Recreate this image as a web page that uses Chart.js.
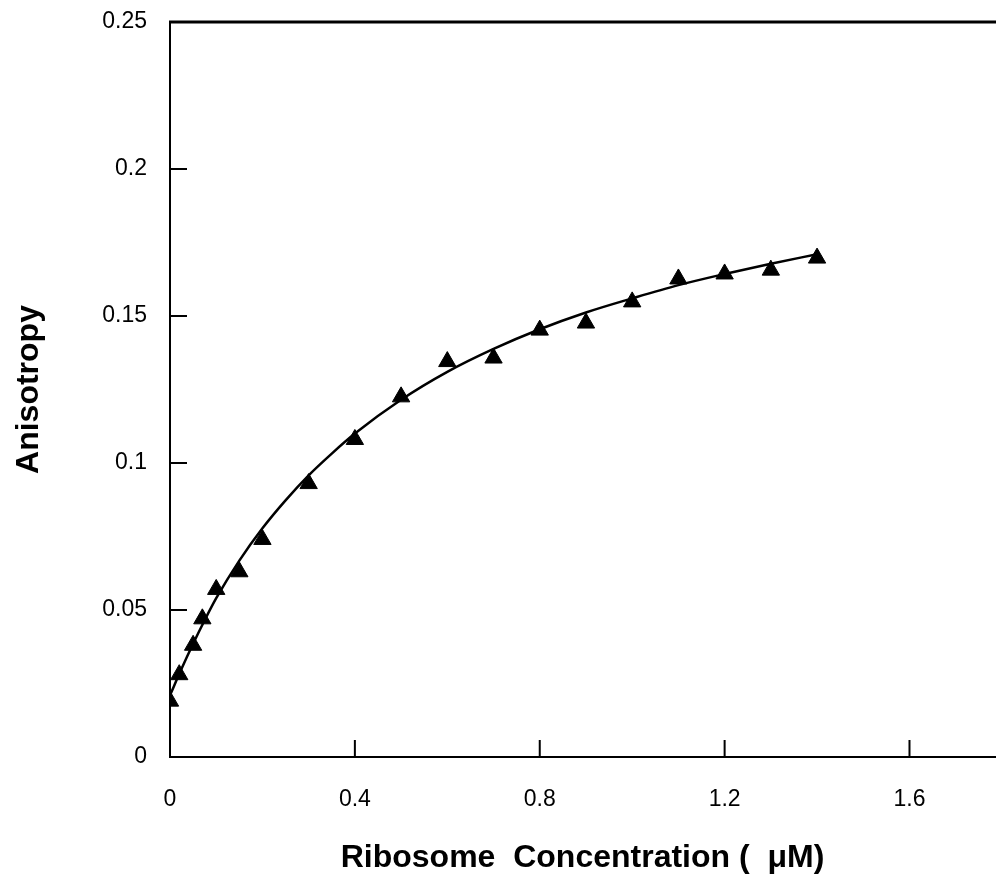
<!DOCTYPE html>
<html>
<head>
<meta charset="utf-8">
<script src="https://cdn.jsdelivr.net/npm/chart.js@4/dist/chart.umd.min.js"></script>
<style>
  html, body { margin: 0; padding: 0; background: #fff; overflow: hidden; }
  #wrap { width: 996px; height: 878px; }
</style>
</head>
<body>
<div id="wrap"><canvas id="myChart" width="996" height="878"></canvas></div>
<script>
// measured points (triangles)
const concentration = [0, 0.02, 0.05, 0.07, 0.1, 0.15, 0.2, 0.3, 0.4, 0.5, 0.6, 0.7, 0.8, 0.9, 1.0, 1.1, 1.2, 1.3, 1.4];
const anisotropy = [0.019, 0.028, 0.038, 0.047, 0.057, 0.063, 0.074, 0.093, 0.108, 0.1225, 0.1345, 0.1357, 0.1452, 0.1476, 0.1548, 0.1626, 0.1643, 0.1656, 0.1697];

// fitted curve
const fitX = [0, 0.025, 0.05, 0.075, 0.1, 0.15, 0.2, 0.25, 0.3, 0.35, 0.4, 0.5, 0.6, 0.7, 0.8, 0.9, 1.0, 1.1, 1.2, 1.3, 1.4];
const fitY = [0.021, 0.030, 0.0385, 0.0465, 0.054, 0.0668, 0.0778, 0.0873, 0.0958, 0.1032, 0.110, 0.1215, 0.131, 0.1388, 0.1455, 0.1512, 0.156, 0.1605, 0.1643, 0.1678, 0.171];

const xTicks = [0, 0.4, 0.8, 1.2, 1.6];
const yTicks = [0, 0.05, 0.1, 0.15, 0.2, 0.25];

const FONT = "'Liberation Sans', Arial, Helvetica, sans-serif";

// ticks point inward, plus the top frame line
const innerTicks = {
    id: 'innerTicks',
    afterDatasetsDraw(chart) {
        const { ctx, chartArea, scales: { x, y } } = chart;
        ctx.save();
        ctx.strokeStyle = '#000';
        ctx.lineWidth = 2;
        ctx.beginPath();
        x.ticks.forEach(t => {
            const px = x.getPixelForValue(t.value);
            ctx.moveTo(px, chartArea.bottom);
            ctx.lineTo(px, chartArea.bottom - 17);
        });
        y.ticks.forEach(t => {
            const py = y.getPixelForValue(t.value);
            ctx.moveTo(chartArea.left, py);
            ctx.lineTo(chartArea.left + 17, py);
        });
        ctx.stroke();
        ctx.lineWidth = 3;
        ctx.beginPath();
        ctx.moveTo(chartArea.left - 1, chartArea.top);
        ctx.lineTo(chartArea.right + 2, chartArea.top);
        ctx.stroke();
        ctx.restore();
    }
};

const cfg = {
    type: 'scatter',
    data: {
        datasets: [
            {
                label: 'Data',
                data: concentration.map((c, i) => ({ x: c, y: anisotropy[i] })),
                pointStyle: 'triangle',
                pointRadius: 10,
                backgroundColor: '#000',
                borderColor: '#000',
                borderWidth: 1,
                showLine: false
            },
            {
                label: 'Fit',
                data: fitX.map((c, i) => ({ x: c, y: fitY[i] })),
                showLine: true,
                borderColor: '#000',
                borderWidth: 2.5,
                pointRadius: 0,
                cubicInterpolationMode: 'monotone'
            }
        ]
    },
    options: {
        responsive: false,
        animation: false,
        devicePixelRatio: 1,
        layout: { autoPadding: false, padding: { top: 22, right: 1, left: 0, bottom: 0 } },
        plugins: {
            legend: { display: false },
            tooltip: { enabled: false }
        },
        scales: {
            x: {
                type: 'linear',
                min: 0,
                max: 1.785,
                afterBuildTicks: s => { s.ticks = xTicks.map(v => ({ value: v })); },
                afterFit: s => {
                    s.height = 121;
                    s.paddingLeft = 0;
                    s.paddingRight = 0;
                },
                grid: { display: false, drawTicks: false },
                border: { display: true, color: '#000', width: 2 },
                ticks: {
                    color: '#000',
                    padding: 29,
                    font: { family: FONT, size: 23 },
                    callback: v => String(v)
                },
                title: {
                    display: true,
                    text: 'Ribosome  Concentration (  \u03bcM)',
                    color: '#000',
                    font: { family: FONT, size: 32, weight: 'bold' },
                    padding: { top: 0, bottom: 1 }
                }
            },
            y: {
                type: 'linear',
                min: 0,
                max: 0.25,
                afterBuildTicks: s => { s.ticks = yTicks.map(v => ({ value: v })); },
                afterFit: s => {
                    s.width = 170;
                    s.paddingTop = 0;
                    s.paddingBottom = 0;
                },
                grid: { display: false, drawTicks: false },
                border: { display: true, color: '#000', width: 2 },
                ticks: {
                    color: '#000',
                    padding: 23,
                    font: { family: FONT, size: 23 },
                    callback: v => String(v)
                },
                title: {
                    display: true,
                    text: 'Anisotropy',
                    color: '#000',
                    font: { family: FONT, size: 32, weight: 'bold' },
                    padding: { top: 10, bottom: 0 }
                }
            }
        }
    },
    plugins: [innerTicks]
};

new Chart(document.getElementById('myChart'), cfg);
</script>
</body>
</html>
